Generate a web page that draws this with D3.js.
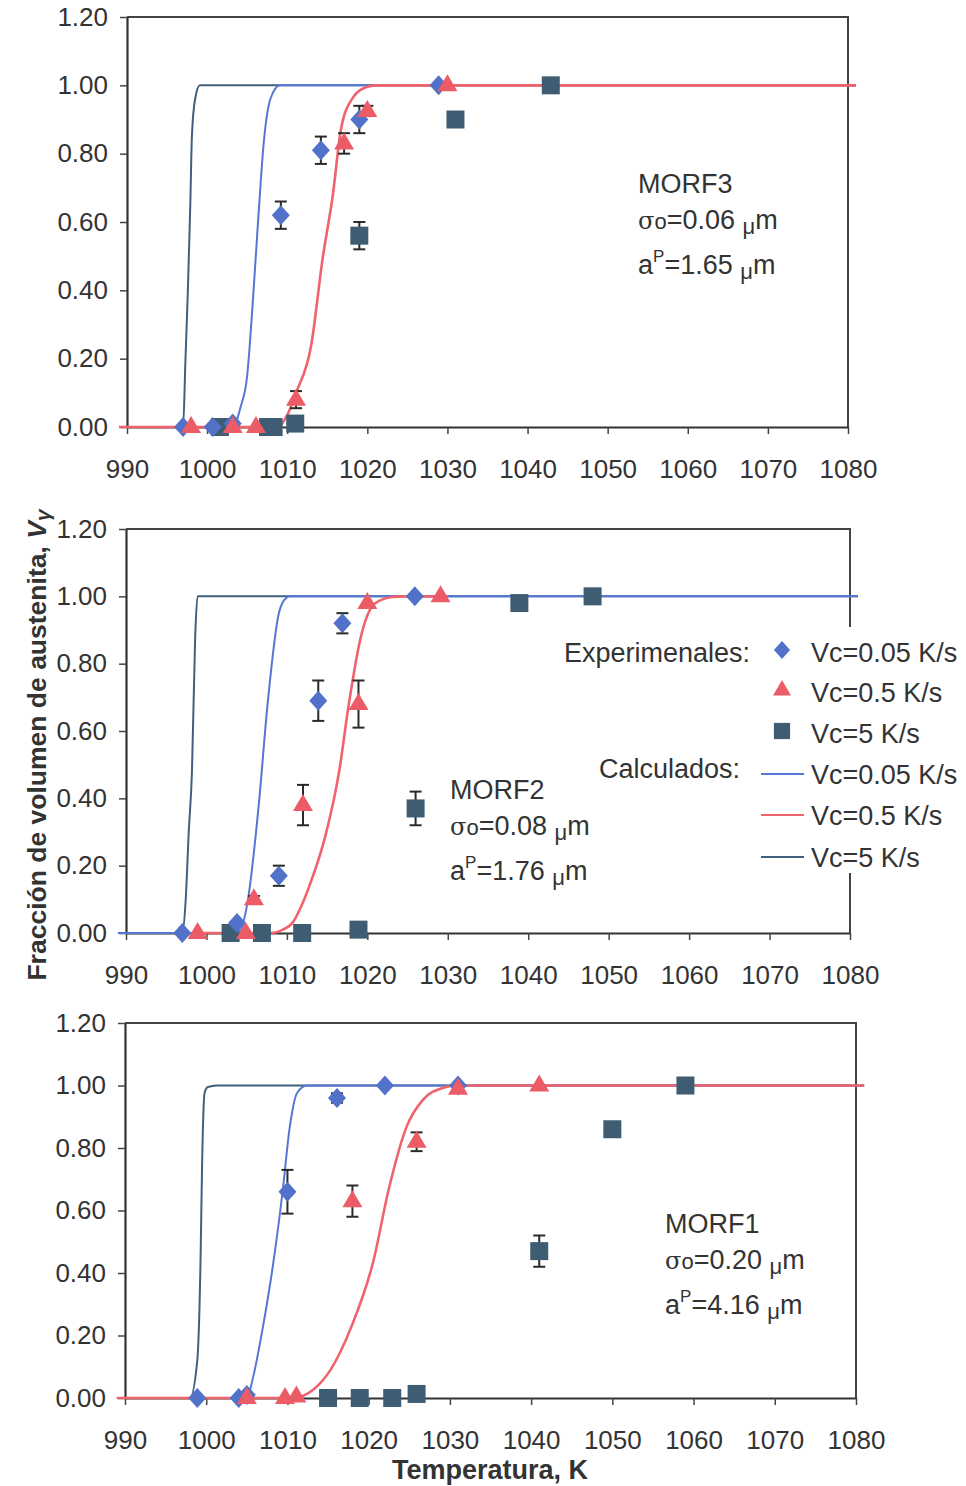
<!DOCTYPE html>
<html><head><meta charset="utf-8">
<script src="https://cdn.jsdelivr.net/npm/d3@7"></script>
<style>
body{margin:0;background:#fff}
svg{display:block}
text{font-family:"Liberation Sans",Arial,sans-serif;fill:#333}
</style>
</head><body>
<svg id="c" width="966" height="1486"></svg>
<script>
// ---------- data ----------
const xTicks=[990,1000,1010,1020,1030,1040,1050,1060,1070,1080];
const yTicks=[0,0.2,0.4,0.6,0.8,1.0,1.2];
const yTickLabels=["0.00","0.20","0.40","0.60","0.80","1.00","1.20"];
const seriesNames=["Vc=0.05 K/s","Vc=0.5 K/s","Vc=5 K/s"];
const groupNames=["Experimenales:","Calculados:"];
const morfNames=["MORF3","MORF2","MORF1"];
const sigmaVals=["0.06","0.08","0.20"];
const apVals=["1.65","1.76","4.16"];

// experimental points: [T (K), V, error]
const morf3Exp005=[[997.0,0,0],[1000.7,0,0],[1003.2,0.01,0],[1009.2,0.62,0.04],[1014.2,0.81,0.04],[1019.0,0.90,0.04],[1028.9,1.0,0]];
const morf3Exp05=[[998.0,0,0],[1003.2,0,0],[1006.1,0,0],[1011.1,0.08,0.025],[1017.1,0.83,0.03],[1020.0,0.925,0.015],[1030.0,1.0,0]];
const morf3Exp5=[[1001.6,0,0],[1007.6,0,0],[1008.3,0,0],[1011.0,0.01,0],[1019.0,0.56,0.04],[1031.0,0.90,0],[1042.9,1.0,0]];

const morf2Exp005=[[997.0,0,0],[1003.8,0.03,0],[1009.0,0.17,0.03],[1013.9,0.69,0.06],[1016.9,0.92,0.03],[1025.9,1.0,0]];
const morf2Exp05=[[998.9,0,0],[1004.9,0,0],[1005.9,0.10,0.01],[1012.0,0.38,0.06],[1018.9,0.68,0.07],[1020.0,0.98,0],[1029.1,1.0,0]];
const morf2Exp5=[[1003.0,0,0],[1006.9,0,0],[1011.9,0,0],[1018.9,0.01,0.01],[1026.0,0.37,0.05],[1038.9,0.98,0],[1048.0,1.0,0]];

const morf1Exp005=[[998.9,0,0],[1004.0,0,0],[1005.0,0.01,0],[1010.0,0.66,0.07],[1016.1,0.96,0.015],[1022.0,1.0,0],[1031.0,1.0,0]];
const morf1Exp05=[[1005.0,0,0],[1009.7,0,0],[1011.1,0.005,0],[1018.0,0.63,0.05],[1025.9,0.82,0.03],[1031.0,0.99,0],[1041.0,1.0,0]];
const morf1Exp5=[[1015.0,0,0],[1018.9,0,0],[1022.9,0,0],[1025.9,0.013,0],[1041.0,0.47,0.05],[1050.0,0.86,0.02],[1059.0,1.0,0]];

// calculated curves: [T (K), V]
const morf3Calc005=[[989,0],[1003.2,0],[1004.2,0.06],[1005.0,0.15],[1005.6,0.33],[1006.3,0.58],[1007.1,0.84],[1007.9,0.96],[1009.1,1.0],[1081,1.0]];
const morf3Calc05=[[989,0],[1008.8,0],[1010.0,0.035],[1011.1,0.10],[1013.0,0.24],[1014.4,0.49],[1015.7,0.68],[1016.7,0.87],[1018.2,0.964],[1019.9,0.995],[1021.0,1.0],[1081,1.0]];
const morf3Calc5=[[989,0],[997.0,0],[997.3,0.2],[997.6,0.4],[997.9,0.65],[998.1,0.85],[998.5,0.96],[999.1,1.0],[1081,1.0]];

const morf2Calc005=[[989,0],[1004.0,0],[1005.1,0.09],[1006.5,0.38],[1007.6,0.68],[1009.0,0.95],[1009.9,0.995],[1010.4,1.0],[1081,1.0]];
const morf2Calc05=[[999.0,0],[1008.0,0],[1009.5,0.01],[1010.7,0.03],[1011.8,0.08],[1012.8,0.14],[1014.8,0.29],[1016.5,0.48],[1017.7,0.68],[1019.2,0.88],[1020.9,0.978],[1023.1,0.998],[1024.5,1.0],[1030.0,1.0]];
const morf2Calc5=[[989,0],[997.0,0],[997.4,0.09],[997.8,0.3],[998.2,0.48],[998.6,0.88],[998.9,1.0],[1081,1.0]];

const morf1Calc005=[[989,0],[1005.0,0],[1005.8,0.07],[1007.0,0.23],[1008.3,0.44],[1009.4,0.66],[1010.3,0.87],[1011.2,0.977],[1012.4,1.0],[1081,1.0]];
const morf1Calc05=[[989,0],[1010.7,0],[1013.2,0.027],[1015.3,0.09],[1017.9,0.23],[1020.6,0.44],[1022.4,0.66],[1024.7,0.87],[1026.7,0.955],[1029.2,0.993],[1030.8,1.0],[1081,1.0]];
const morf1Calc5=[[989,0],[998.0,0],[998.9,0.12],[999.3,0.44],[999.5,0.76],[999.8,0.977],[1000.2,0.995],[1001.3,1.0],[1081,1.0]];

// ---------- styles ----------
const markerColors=["#5172c8","#ec5c66","#3e5d72"];
const lineColors=["#5577d3","#f0626c","#40607e"];
const markerPaths=["M0,-10L9,0L0,10L-9,0Z","M0,-11L10,6L-10,6Z","M-9,-9H9V9H-9Z"];

const panels=[
 {exp:[morf3Exp005,morf3Exp05,morf3Exp5],calc:[morf3Calc005,morf3Calc05,morf3Calc5],px:[127,848],py:[427,17],ann:[638,193],i:0},
 {exp:[morf2Exp005,morf2Exp05,morf2Exp5],calc:[morf2Calc005,morf2Calc05,morf2Calc5],px:[126,850],py:[933,529],ann:[450,799],i:1},
 {exp:[morf1Exp005,morf1Exp05,morf1Exp5],calc:[morf1Calc005,morf1Calc05,morf1Calc5],px:[125,856],py:[1398,1023],ann:[665,1233],i:2}
];

const svg=d3.select("#c");

panels.forEach(p=>{
  const x=d3.scaleLinear().domain([990,1080]).range(p.px);
  const y=d3.scaleLinear().domain([0,1.2]).range(p.py);
  const g=svg.append("g");

  // box (top and right)
  g.append("path").attr("d",`M${p.px[0]},${p.py[1]}H${p.px[1]}V${p.py[0]}`)
    .attr("fill","none").attr("stroke","#444").attr("stroke-width",2);

  // axes
  const ax=g.append("g").attr("transform",`translate(0,${p.py[0]})`)
    .call(d3.axisBottom(x).tickValues(xTicks).tickSize(7).tickSizeOuter(0).tickFormat(d3.format("d")));
  ax.selectAll("text").attr("y",33).attr("font-size",26).attr("fill","#333").style("font-family","Liberation Sans, Arial, sans-serif");
  const ay=g.append("g").attr("transform",`translate(${p.px[0]},0)`)
    .call(d3.axisLeft(y).tickValues(yTicks).tickSize(7).tickSizeOuter(0).tickFormat((d,i)=>yTickLabels[i]));
  ay.selectAll("text").attr("x",-19).attr("font-size",26).attr("fill","#333").style("font-family","Liberation Sans, Arial, sans-serif");
  [ax,ay].forEach(a=>{
    a.select(".domain").attr("stroke","#333").attr("stroke-width",2.2);
    a.selectAll(".tick line").attr("stroke","#444").attr("stroke-width",1.5);
  });

  // calculated lines: 5 K/s, 0.05 K/s, 0.5 K/s (red on top)
  const line=d3.line().x(d=>x(d[0])).y(d=>y(d[1])).curve(d3.curveMonotoneX);
  [2,0,1].forEach(k=>{
    g.append("path").datum(p.calc[k]).attr("d",line).attr("fill","none")
      .attr("stroke",lineColors[k]).attr("stroke-width",k===1?2.6:2);
  });

  // error bars then markers
  [0,1,2].forEach(k=>{
    const eb=p.exp[k].filter(d=>d[2]>0);
    const eg=g.append("g").attr("stroke","#2a2a2a").attr("stroke-width",2);
    eb.forEach(d=>{
      const cx=x(d[0]),ya=y(d[1]-d[2]),yb=y(d[1]+d[2]);
      eg.append("line").attr("x1",cx).attr("x2",cx).attr("y1",ya).attr("y2",yb);
      eg.append("line").attr("x1",cx-6).attr("x2",cx+6).attr("y1",ya).attr("y2",ya);
      eg.append("line").attr("x1",cx-6).attr("x2",cx+6).attr("y1",yb).attr("y2",yb);
    });
  });
  [2,0,1].forEach(k=>{
    g.selectAll(null).data(p.exp[k]).enter().append("path")
      .attr("d",markerPaths[k]).attr("fill",markerColors[k])
      .attr("transform",d=>`translate(${x(d[0])},${y(d[1])})`);
  });

  // annotation
  const [tx,ty]=p.ann;
  g.append("text").attr("x",tx).attr("y",ty).attr("font-size",27).text(morfNames[p.i]);
  const t2=g.append("text").attr("x",tx).attr("y",ty+36).attr("font-size",27);
  t2.append("tspan").attr("font-family","DejaVu Serif, serif").attr("font-size",24).text("σ");
  t2.append("tspan").attr("font-size",22).text("o");
  t2.append("tspan").text("="+sigmaVals[p.i]+" ");
  t2.append("tspan").attr("font-size",22).attr("dy",5).text("μ");
  t2.append("tspan").attr("dy",-5).text("m");
  const t3=g.append("text").attr("x",tx).attr("y",ty+81).attr("font-size",27);
  t3.append("tspan").text("a");
  t3.append("tspan").attr("font-size",17).attr("dy",-12).text("P");
  t3.append("tspan").attr("dy",12).text("="+apVals[p.i]+" ");
  t3.append("tspan").attr("font-size",22).attr("dy",5).text("μ");
  t3.append("tspan").attr("dy",-5).text("m");
});

// legend (in middle panel, white background over the frame)
const lg=svg.append("g");
lg.append("rect").attr("x",830).attr("y",627).attr("width",136).attr("height",246).attr("fill","#fff");
const rowY=[652,692,733,774,815,857];
lg.append("text").attr("x",750).attr("y",rowY[0]+10).attr("text-anchor","end").attr("font-size",27).text(groupNames[0]);
lg.append("text").attr("x",740).attr("y",768+10).attr("text-anchor","end").attr("font-size",27).text(groupNames[1]);
seriesNames.forEach((s,k)=>{
  lg.append("path").attr("d",markerPaths[k]).attr("fill",markerColors[k])
    .attr("transform",`translate(782,${rowY[k]-2}) scale(0.9)`);
  lg.append("text").attr("x",811).attr("y",rowY[k]+10).attr("font-size",27).text(s);
  lg.append("line").attr("x1",761).attr("x2",804).attr("y1",rowY[k+3]).attr("y2",rowY[k+3])
    .attr("stroke",lineColors[k]).attr("stroke-width",2);
  lg.append("text").attr("x",811).attr("y",rowY[k+3]+10).attr("font-size",27).text(s);
});

// axis titles
svg.append("text").attr("transform","translate(46,745) rotate(-90)").attr("text-anchor","middle")
  .attr("font-size",26.5).attr("font-weight","bold")
  .call(t=>{t.append("tspan").text("Fracción de volumen de austenita, ");
            t.append("tspan").attr("font-style","italic").text("V");
            t.append("tspan").attr("font-style","italic").attr("font-size",21).attr("dy",4).text("γ");});
svg.append("text").attr("x",490).attr("y",1479).attr("text-anchor","middle")
  .attr("font-size",27).attr("font-weight","bold").text("Temperatura, K");
</script>
</body></html>
